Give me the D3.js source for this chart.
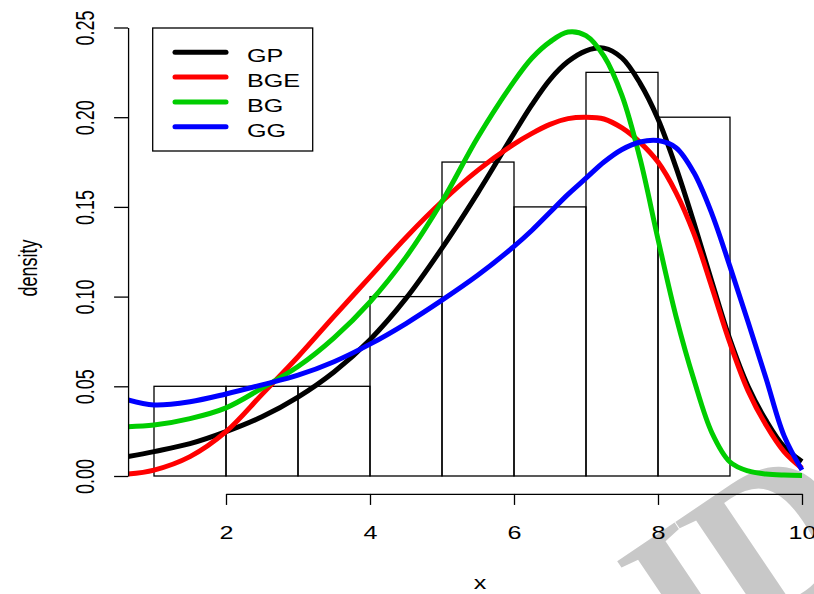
<!DOCTYPE html>
<html>
<head>
<meta charset="utf-8">
<script src="https://cdn.jsdelivr.net/npm/d3@7/dist/d3.min.js"></script>
<style>
  body { margin: 0; background: #fff; }
  svg { display: block; }
</style>
</head>
<body>
<script>

// histogram bins (density scale)
var binEdges = [1, 2, 3, 4, 5, 6, 7, 8, 9];
var binDensity = [0.05, 0.05, 0.05, 0.10, 0.175, 0.15, 0.225, 0.20];

// fitted densities on a common x grid
var gridX = [0.64, 1, 1.5, 2, 2.5, 3, 3.5, 4, 4.5, 5, 5.5, 6, 6.25, 6.5, 6.75, 7,
             7.25, 7.5, 7.75, 8, 8.25, 8.5, 8.75, 9, 9.25, 9.5, 9.75, 10];
var gpY  = [0.0108, 0.0136, 0.018, 0.0247, 0.033, 0.044, 0.058, 0.076, 0.099, 0.127, 0.158, 0.191,
            0.207, 0.221, 0.231, 0.237, 0.2385, 0.233, 0.219, 0.199, 0.172, 0.141, 0.108, 0.076,
            0.050, 0.031, 0.0163, 0.008];
var bgeY = [0.0011, 0.0033, 0.0108, 0.0247, 0.0455, 0.0665, 0.089, 0.111, 0.133, 0.153, 0.1705, 0.185,
            0.191, 0.196, 0.1992, 0.200, 0.199, 0.194, 0.186, 0.175, 0.158, 0.135, 0.105, 0.074,
            0.0476, 0.0284, 0.0136, 0.0043];
var bgY  = [0.0275, 0.0284, 0.032, 0.038, 0.049, 0.061, 0.077, 0.097, 0.122, 0.153, 0.189, 0.22,
            0.233, 0.242, 0.2475, 0.2455, 0.234, 0.212, 0.177, 0.132, 0.089, 0.0535, 0.024, 0.0078,
            0.0028, 0.0011, 0.0005, 0.0003];
var ggY  = [0.0424, 0.0396, 0.0414, 0.0457, 0.0508, 0.0562, 0.0637, 0.0735, 0.085, 0.098, 0.112, 0.128,
            0.137, 0.147, 0.157, 0.166, 0.175, 0.182, 0.1862, 0.187, 0.183, 0.169, 0.146, 0.1167,
            0.086, 0.0545, 0.0225, 0.0033];

var seriesNames = ["GP", "BGE", "BG", "GG"];
var seriesColors = ["#000000", "#FF0000", "#00CD00", "#0000FF"];

var xTicks = [2, 4, 6, 8, 10];
var yTicks = [0, 0.05, 0.10, 0.15, 0.20, 0.25];

var W = 814, H = 594;
var stretch = 1.4;   // the picture is wider than tall, text is squeezed that way too

var svg = d3.select("body").append("svg")
  .attr("width", W)
  .attr("height", H);

// watermark behind everything
svg.append("text")
  .attr("transform", "translate(690,682) rotate(-34)")
  .attr("font-family", "Liberation Serif")
  .attr("font-weight", "bold")
  .attr("font-size", 215)
  .attr("letter-spacing", -10)
  .attr("fill", "#c8c8c8")
  .text("ID");

var x = d3.scaleLinear().domain([2, 10]).range([226, 802]);
var y = d3.scaleLinear().domain([0, 0.25]).range([476, 27.5]);

// plot region, R style 4% padding
var plotLeft = x(0.64), plotRight = x(10.36), plotTop = y(0.26), plotBottom = y(-0.01);

svg.append("clipPath").attr("id", "plotclip")
  .append("rect")
    .attr("x", plotLeft).attr("y", plotTop)
    .attr("width", plotRight - plotLeft).attr("height", plotBottom - plotTop);

// histogram
svg.append("g")
  .selectAll("rect")
  .data(binDensity)
  .enter()
  .append("rect")
    .attr("x", function(d, i) { return x(binEdges[i]); })
    .attr("y", function(d) { return y(d); })
    .attr("width", function(d, i) { return x(binEdges[i + 1]) - x(binEdges[i]); })
    .attr("height", function(d) { return y(0) - y(d); })
    .attr("fill", "none")
    .attr("stroke", "#000")
    .attr("stroke-width", 1.3);

// density curves
var allY = [gpY, bgeY, bgY, ggY];
var line = d3.line()
  .x(function(d) { return x(d[0]); })
  .y(function(d) { return y(d[1]); })
  .curve(d3.curveCatmullRom.alpha(0.5));

var curves = svg.append("g").attr("clip-path", "url(#plotclip)");
allY.forEach(function(ys, k) {
  curves.append("path")
    .datum(d3.zip(gridX, ys))
    .attr("fill", "none")
    .attr("stroke", seriesColors[k])
    .attr("stroke-width", 5)
    .attr("stroke-linejoin", "round")
    .attr("d", line);
});

// x axis
var xAxis = d3.axisBottom(x)
  .tickValues(xTicks)
  .tickSize(11)
  .tickSizeOuter(0)
  .tickFormat(d3.format("d"));

var gx = svg.append("g")
  .attr("transform", "translate(0," + plotBottom + ")")
  .call(xAxis);
gx.select(".domain").attr("stroke", "#000").attr("stroke-width", 1.3);
gx.selectAll(".tick line").attr("stroke", "#000").attr("stroke-width", 1.3);
gx.selectAll(".tick text")
  .attr("y", 45.5)
  .attr("dy", null)
  .attr("transform", "scale(" + stretch + ",1)")
  .attr("font-family", "Liberation Sans, Arial, sans-serif")
  .attr("font-size", 18)
  .attr("fill", "#000");

// y axis
var yAxis = d3.axisLeft(y)
  .tickValues(yTicks)
  .tickSize(14)
  .tickSizeOuter(0)
  .tickFormat(d3.format(".2f"));

var gy = svg.append("g")
  .attr("transform", "translate(" + plotLeft + ",0)")
  .call(yAxis);
gy.select(".domain").attr("stroke", "#000").attr("stroke-width", 1.3);
gy.selectAll(".tick line").attr("stroke", "#000").attr("stroke-width", 1.3);
gy.selectAll(".tick text")
  .attr("x", 0)
  .attr("y", 0)
  .attr("dy", null)
  .attr("text-anchor", "middle")
  .attr("transform", "translate(-34,0) scale(" + stretch + ",1) rotate(-90)")
  .attr("font-family", "Liberation Sans, Arial, sans-serif")
  .attr("font-size", 18)
  .attr("fill", "#000");

// axis titles
svg.append("text")
  .attr("transform", "translate(480,589) scale(" + stretch + ",1)")
  .attr("text-anchor", "middle")
  .attr("font-family", "Liberation Sans, Arial, sans-serif")
  .attr("font-size", 18)
  .text("x");

svg.append("text")
  .attr("transform", "translate(37,268) scale(" + stretch + ",1) rotate(-90)")
  .attr("text-anchor", "middle")
  .attr("font-family", "Liberation Sans, Arial, sans-serif")
  .attr("font-size", 18)
  .text("density");

// legend
var legend = svg.append("g");
legend.append("rect")
  .attr("x", 152.7).attr("y", 28)
  .attr("width", 160).attr("height", 123)
  .attr("fill", "#fff")
  .attr("stroke", "#000")
  .attr("stroke-width", 1.3);

seriesNames.forEach(function(name, i) {
  var ly = 52.3 + i * 24.8;
  legend.append("line")
    .attr("x1", 175).attr("x2", 226)
    .attr("y1", ly).attr("y2", ly)
    .attr("stroke", seriesColors[i])
    .attr("stroke-width", 5)
    .attr("stroke-linecap", "round");
  legend.append("text")
    .attr("transform", "translate(247," + (ly + 10) + ") scale(" + stretch + ",1)")
    .attr("font-family", "Liberation Sans, Arial, sans-serif")
    .attr("font-size", 18)
    .text(name);
});

</script>
</body>
</html>
